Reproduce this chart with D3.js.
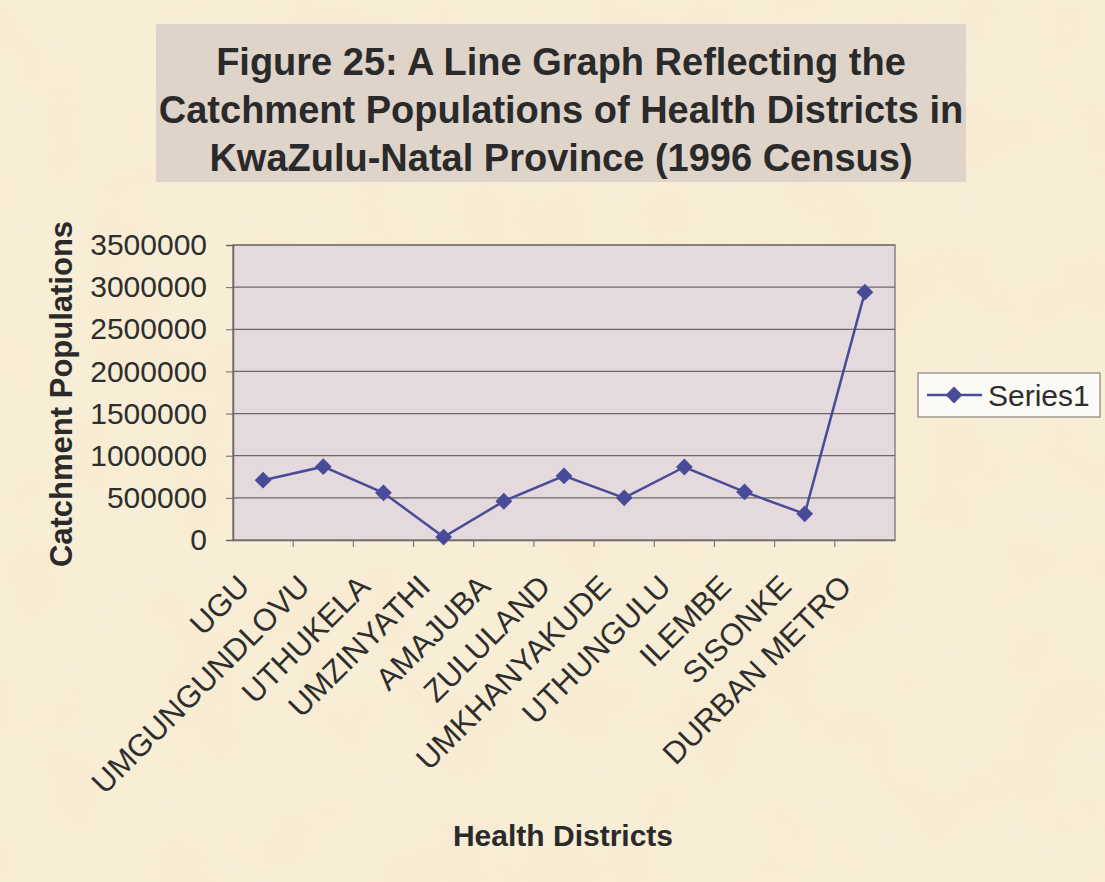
<!DOCTYPE html>
<html>
<head>
<meta charset="utf-8">
<script src="https://cdn.jsdelivr.net/npm/d3@7"></script>
<style>
  html, body { margin: 0; padding: 0; background: #f5ead0; }
  svg { display: block; }
</style>
</head>
<body>
<div id="chart"></div>
<script>
const districts = ['UGU', 'UMGUNGUNDLOVU', 'UTHUKELA', 'UMZINYATHI', 'AMAJUBA', 'ZULULAND',
    'UMKHANYAKUDE', 'UTHUNGULU', 'ILEMBE', 'SISONKE', 'DURBAN METRO']
const populations = [710000, 870000, 560000, 35000, 460000, 760000, 500000, 866000, 570000, 310000, 2940000]
const yTicks = [0, 500000, 1000000, 1500000, 2000000, 2500000, 3000000, 3500000]
const titleLines = ['Figure 25: A Line Graph Reflecting the',
    'Catchment Populations of Health Districts in',
    'KwaZulu-Natal Province (1996 Census)']
const seriesName = 'Series1'

const width = 1105, height = 882
const margin = { top: 245, right: 210, bottom: 342, left: 233 }
const lineColor = '#4a4b98'

const svg = d3.select('#chart').append('svg')
    .attr('width', width).attr('height', height)
    .style('font-family', 'Liberation Sans, Arial, sans-serif')

// parchment background
const defs = svg.append('defs')
const f = defs.append('filter').attr('id', 'paper').attr('x', 0).attr('y', 0).attr('width', 1).attr('height', 1)
f.append('feTurbulence').attr('type', 'fractalNoise').attr('baseFrequency', 0.012).attr('numOctaves', 4).attr('seed', 7)
f.append('feColorMatrix').attr('type', 'matrix')
    .attr('values', '0 0 0 0 0.93  0 0 0 0 0.80  0 0 0 0 0.60  0 0 0 -1.6 0.95')
svg.append('rect').attr('width', width).attr('height', height).attr('fill', '#f8eed6')
svg.append('rect').attr('width', width).attr('height', height).attr('filter', 'url(#paper)').attr('opacity', 0.6)

// title
svg.append('rect')
    .attr('x', 156).attr('y', 24).attr('width', 810).attr('height', 158)
    .attr('fill', '#dcd0c8').attr('opacity', 0.9)
svg.append('g').selectAll('text')
    .data(titleLines).enter()
    .append('text')
    .attr('x', 561)
    .attr('y', (d, i) => 75 + i * 48)
    .attr('text-anchor', 'middle')
    .attr('font-size', '38px').attr('font-weight', 'bold')
    .attr('fill', '#2a2a2a')
    .text(d => d)

// scales
const x = d3.scaleBand()
    .domain(districts)
    .range([margin.left, width - margin.right])
const y = d3.scaleLinear()
    .domain([0, 3500000])
    .range([height - margin.bottom, margin.top])

// plot area
svg.append('rect')
    .attr('x', margin.left).attr('y', margin.top)
    .attr('width', width - margin.left - margin.right)
    .attr('height', height - margin.top - margin.bottom)
    .attr('fill', '#e4d9dc').attr('stroke', '#8a8280').attr('stroke-width', 1.5)

// gridlines
svg.selectAll('.grid')
    .data(yTicks.filter(d => d > 0)).enter()
    .append('line')
    .attr('x1', margin.left).attr('x2', width - margin.right)
    .attr('y1', d => y(d)).attr('y2', d => y(d))
    .attr('stroke', '#6e6866').attr('stroke-width', 1.2)

// y axis
const yAxis = svg.append('g')
    .attr('transform', `translate(${margin.left},0)`)
    .call(d3.axisLeft(y).tickValues(yTicks).tickFormat(d3.format('d')).tickSize(7).tickPadding(19))
yAxis.selectAll('text').attr('font-size', '30px').attr('fill', '#2e2e2e')
    .attr('font-family', 'Liberation Sans, Arial, sans-serif')
yAxis.selectAll('line').attr('stroke', '#6e6866')
yAxis.select('.domain').attr('stroke', '#6e6866').attr('stroke-width', 1.5)

// x axis
const xAxis = svg.append('g')
    .attr('transform', `translate(0,${height - margin.bottom})`)
    .call(d3.axisBottom(x).tickSize(0).tickFormat(''))
xAxis.select('.domain').attr('stroke', '#6e6866').attr('stroke-width', 1.5)
svg.selectAll('.xtick')
    .data(districts.slice(1)).enter()
    .append('line')
    .attr('x1', d => x(d)).attr('x2', d => x(d))
    .attr('y1', height - margin.bottom).attr('y2', height - margin.bottom + 7)
    .attr('stroke', '#6e6866')

svg.selectAll('.xlabel')
    .data(districts).enter()
    .append('text')
    .attr('transform', d => `translate(${x(d) + x.bandwidth() / 2 - 27},${height - margin.bottom + 33}) rotate(-45)`)
    .attr('text-anchor', 'end')
    .attr('dy', '0.7em')
    .attr('font-size', '31px')
    .attr('fill', '#2e2e2e')
    .text(d => d)

// axis titles
svg.append('text')
    .attr('transform', `translate(72,394) rotate(-90)`)
    .attr('text-anchor', 'middle')
    .attr('font-size', '31px').attr('font-weight', 'bold').attr('fill', '#2a2a2a')
    .text('Catchment Populations')
svg.append('text')
    .attr('x', 563).attr('y', 846)
    .attr('text-anchor', 'middle')
    .attr('font-size', '30px').attr('font-weight', 'bold').attr('fill', '#2a2a2a')
    .text('Health Districts')

// series line
const line = d3.line()
    .x((d, i) => x(districts[i]) + x.bandwidth() / 2)
    .y(d => y(d))
svg.append('path')
    .datum(populations)
    .attr('d', line)
    .attr('fill', 'none')
    .attr('stroke', lineColor).attr('stroke-width', 2.5)

const diamond = d3.symbol().type(d3.symbolDiamond2).size(180)
svg.selectAll('.pt')
    .data(populations).enter()
    .append('path')
    .attr('d', diamond)
    .attr('transform', (d, i) => `translate(${x(districts[i]) + x.bandwidth() / 2},${y(d)})`)
    .attr('fill', lineColor)

// legend
const lg = svg.append('g').attr('transform', 'translate(918,373)')
lg.append('rect').attr('width', 182).attr('height', 44)
    .attr('fill', '#fbfaf6').attr('stroke', '#8a8280').attr('stroke-width', 1.2)
lg.append('line').attr('x1', 9).attr('x2', 64).attr('y1', 22).attr('y2', 22)
    .attr('stroke', lineColor).attr('stroke-width', 2.5)
lg.append('path').attr('d', diamond).attr('transform', 'translate(36,22)').attr('fill', lineColor)
lg.append('text').attr('x', 70).attr('y', 33)
    .attr('font-size', '30px').attr('fill', '#2e2e2e')
    .text(seriesName)
</script>
</body>
</html>
